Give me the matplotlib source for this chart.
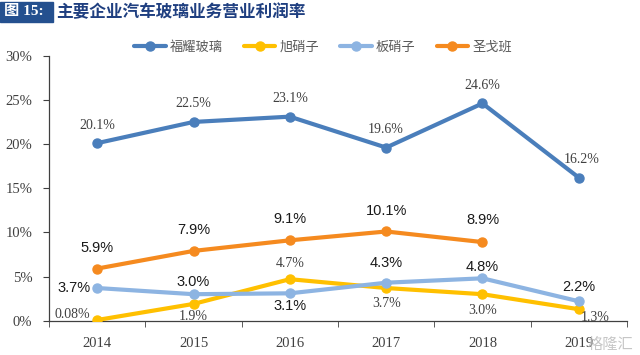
import matplotlib.pyplot as plt
import numpy as np

years = ['2014', '2015', '2016', '2017', '2018', '2019']
fuyao = [20.1, 22.5, 23.1, 19.6, 24.6, 16.2]
agc = [0.08, 1.9, 4.7, 3.7, 3.0, 1.3]
nsg = [3.7, 3.0, 3.1, 4.3, 4.8, 2.2]
saint_gobain = [5.9, 7.9, 9.1, 10.1, 8.9]

fuyao_txt = ['20.1%', '22.5%', '23.1%', '19.6%', '24.6%', '16.2%']
agc_txt = ['0.08%', '1.9%', '4.7%', '3.7%', '3.0%', '1.3%']
nsg_txt = ['3.7%', '3.0%', '3.1%', '4.3%', '4.8%', '2.2%']
sg_txt = ['5.9%', '7.9%', '9.1%', '10.1%', '8.9%']

names = ['福耀玻璃', '旭硝子', '板硝子', '圣戈班']
colors = ['#4A7EBB', '#FFC000', '#8DB4E2', '#F58A1F']

# label offsets in points (dx, dy, ha)
fuyao_off = [(0, 13, 'center')] * 5 + [(2, 13, 'center')]
agc_off = [(-5, 4, 'right'), (0, -9, 'center'), (0, 11, 'center'),
           (0, -11, 'center'), (0, -12, 'center'), (12, -6, 'center')]
nsg_off = [(-5, 0, 'right'), (0, 9, 'center'), (0, -9, 'center'),
           (0, 14, 'center'), (0, 8, 'center'), (0, 10, 'center')]
sg_off = [(0, 15, 'center')] * 4 + [(0, 16, 'center')]

plt.rcParams['font.family'] = ['Liberation Serif', 'Noto Sans CJK SC']

fig = plt.figure(figsize=(6.4, 3.55), dpi=100)
ax = fig.add_axes([0.0766, 0.0966, 0.903, 0.7465])

x = np.arange(len(years))
series = [fuyao, agc, nsg, saint_gobain]
for vals, c, n in zip(series, colors, names):
    ax.plot(x[:len(vals)], vals, color=c, lw=3, marker='o', ms=6.5,
            solid_capstyle='round', label=n, zorder=3)

serif_kw = dict(fontsize=10, color='#404040', family='Liberation Serif')
sans_kw = dict(fontsize=10.5, color='#1a1a1a', family='Liberation Sans')

for vals, txt, off, kw in [(fuyao, fuyao_txt, fuyao_off, serif_kw),
                           (agc, agc_txt, agc_off, serif_kw),
                           (nsg, nsg_txt, nsg_off, sans_kw),
                           (saint_gobain, sg_txt, sg_off, sans_kw)]:
    for i, (v, t) in enumerate(zip(vals, txt)):
        dx, dy, ha = off[i]
        ax.annotate(t, (x[i], v), xytext=(dx, dy), textcoords='offset points',
                    ha=ha, va='center', zorder=4, **kw)

ax.set_xlim(-0.5, 5.5)
ax.set_ylim(0, 30)
ax.set_yticks(np.arange(0, 31, 5))
ax.set_yticklabels([f'{v}%' for v in range(0, 31, 5)], fontsize=10.5, color='#404040')
ax.set_xticks(x)
ax.set_xticklabels(years, fontsize=10.5, color='#404040')
ax.set_xticks(np.arange(-0.5, 6, 1), minor=True)
ax.tick_params(axis='x', which='major', length=0, pad=12)
ax.tick_params(axis='x', which='minor', length=4, color='#404040', direction='out')
ax.tick_params(axis='y', length=4, color='#404040', pad=8)
for s in ['top', 'right']:
    ax.spines[s].set_visible(False)
for s in ['left', 'bottom']:
    ax.spines[s].set_color('#404040')
    ax.spines[s].set_linewidth(0.9)

fig.legend(loc='center', bbox_to_anchor=(323 / 640, 1 - 47 / 355), ncol=4, frameon=False,
           prop={'family': 'Noto Sans CJK SC', 'size': 9.5}, handlelength=2.4,
           columnspacing=1.6, handletextpad=0.3, labelcolor='#595959')

# title bar
fig.patches.append(plt.Rectangle((0, 1 - 22 / 355), 53 / 640, 20 / 355,
                                 transform=fig.transFigure, color='#24508F'))
fig.text(4 / 640, 1 - 12 / 355, '图 15:', color='white', fontsize=11, weight='bold',
         va='center', family=['Liberation Serif', 'Noto Sans CJK SC'])
fig.text(56 / 640, 1 - 12 / 355, '主要企业汽车玻璃业务营业利润率', color='#1F3F80',
         fontsize=12, va='center', family='Noto Sans CJK SC', weight='bold')

# watermark
fig.text(0.99, 0.03, '格隆汇', color='#b8b8b8', fontsize=11, ha='right', va='center',
         family='Noto Sans CJK SC', alpha=0.8)

fig.savefig('out.png', dpi=100)
